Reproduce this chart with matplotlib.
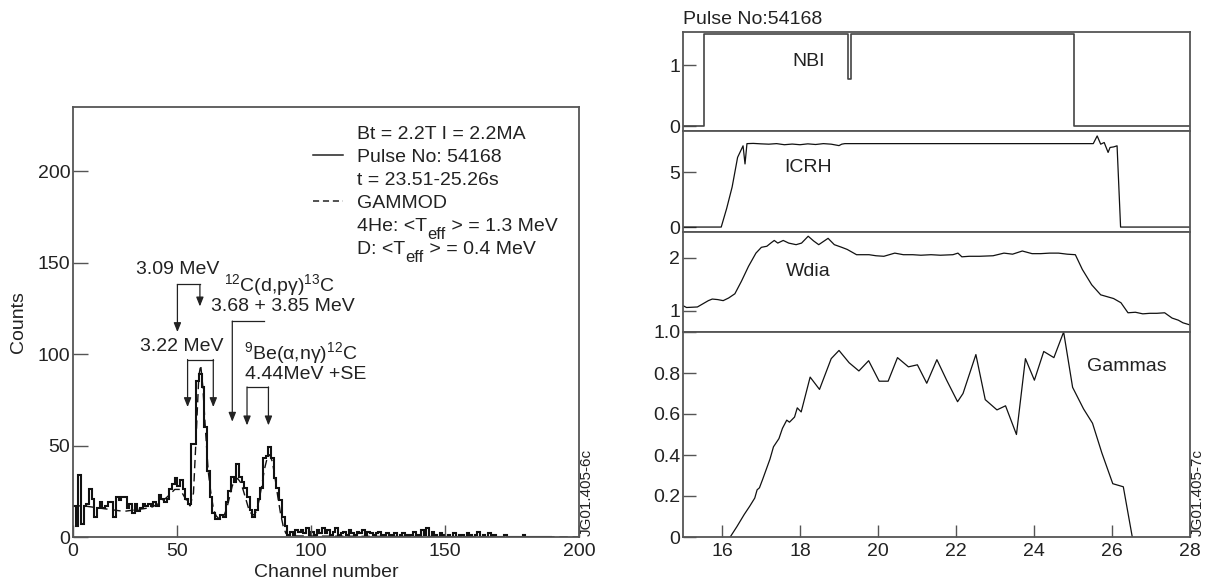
import matplotlib
matplotlib.use("Agg")
import matplotlib.pyplot as plt
import numpy as np

plt.rcParams['font.family'] = ['Liberation Sans', 'DejaVu Sans']
plt.rcParams['mathtext.fontset'] = 'custom'
plt.rcParams['mathtext.rm'] = 'Liberation Sans'
plt.rcParams['mathtext.it'] = 'Liberation Sans'
plt.rcParams['mathtext.bf'] = 'Liberation Sans'

# ---------------- gamma-ray spectrum (left) ----------------
channel_start = 11
counts = [
    17, 6, 34, 7, 17, 18, 26, 21, 11, 16,
    19, 16, 17, 19, 19, 11, 22, 20, 22, 22,
    16, 18, 13, 18, 14, 16, 18, 17, 18, 17,
    19, 17, 23, 21, 19, 21, 26, 29, 32, 28,
    31, 26, 21, 18, 51, 51, 85, 89, 82, 60,
    36, 22, 13, 10, 10, 12, 11, 19, 25, 33,
    30, 40, 33, 30, 27, 22, 15, 11, 15, 21,
    27, 43, 44, 49, 43, 32, 27, 20, 11, 6,
    1, 3, 1, 4, 3, 4, 2, 5, 1, 3,
    1, 4, 2, 5, 2, 4, 1, 3, 5, 1,
    2, 3, 1, 4, 2, 1, 3, 2, 4, 1,
    3, 2, 1, 2, 3, 1, 0, 2, 1, 1,
    2, 0, 1, 2, 1, 0, 1, 3, 0, 1,
    4, 1, 5, 0, 3, 1, 0, 2, 1, 0,
    1, 0, 2, 0, 1, 1, 0, 2, 1, 0,
    1, 3, 0, 1, 0, 2, 0, 1, 0, 0,
    0, 1, 0, 0, 0, 0, 0, 0, 1, 0,
    0, 0, 0, 0, 0, 0, 0, 0, 0,
]

model_channel = [11, 15, 20, 25, 30, 35, 40, 44, 47, 49, 51, 53, 54.7, 56,
                 57, 58, 58.7, 59.5, 60.5, 61.5, 62.5, 63.5, 64.5, 65.5, 66.5,
                 67.5, 68.5, 69.5, 70.5, 71.5, 72.5, 73.5, 74.5, 75.5, 76.5,
                 77.5, 78.5, 79.5, 80.5, 81.5, 82.5, 83.5, 84.5, 85.5, 86.5,
                 87.5, 88.5, 89.5, 90.5, 92, 100, 130, 200]
model_counts = [17, 17, 16, 15, 14, 15, 16, 19, 23, 26, 26, 21, 17, 24,
                55, 88, 94, 82, 58, 36, 24, 15, 11.5, 10, 10,
                12, 16, 22, 28, 31, 32, 30, 26, 21, 16,
                13, 12, 14, 20, 28, 37, 43, 45, 41, 32,
                22, 13, 6, 2, 0.6, 0.5, 0.3, 0]

# peak annotations: bracket span, bracket height, arrow channels, arrow tips
bracket_spans = [(50.0, 58.4), (53.8, 63.4), (70.5, 82.4), (76.0, 84.0)]
bracket_heights = [138, 97, 118, 82]
arrow_channels = [[50.0, 58.4], [53.8, 63.4], [70.5], [76.0, 84.0]]
arrow_tips = [[112, 126], [71, 71], [63], [61, 61]]

peak_labels = ["3.09 MeV", r"$^{12}$C(d,pγ)$^{13}$C", "3.68 + 3.85 MeV",
               "3.22 MeV", r"$^{9}$Be(α,nγ)$^{12}$C", "4.44MeV +SE"]
peak_label_x = [34.6, 67.4, 62.7, 36.2, 74.8, 75.2]
peak_label_y = [146, 137.5, 126, 104, 100.5, 89]

legend_plain = ["Bt = 2.2T I = 2.2MA", "Pulse No: 54168", "t = 23.51-25.26s",
                "GAMMOD"]
legend_teff = [("4He: <T", "eff", " > = 1.3 MeV"),
               ("D: <T", "eff", " > = 0.4 MeV")]

# ---------------- time traces (right) ----------------
nbi_t = [15.0, 15.54, 15.54, 19.24, 19.24, 19.31, 19.31, 25.03, 25.03, 28.0]
nbi_v = [0, 0, 1.5, 1.5, 0.77, 0.77, 1.5, 1.5, 0, 0]

icrh_t = [15.0, 15.98, 16.12, 16.26, 16.40, 16.54, 16.59, 16.64, 16.8, 17.0,
          17.2, 17.4, 17.6, 17.8, 18.0, 18.2, 18.4, 18.6, 18.8, 19.0, 19.07,
          19.15, 25.52, 25.62, 25.71, 25.8, 25.9, 25.95, 26.04, 26.13, 26.22,
          28.0]
icrh_v = [0, 0, 1.7, 3.65, 6.35, 7.4, 5.75, 7.6, 7.62, 7.58,
          7.55, 7.6, 7.5, 7.56, 7.5, 7.58, 7.52, 7.6, 7.55, 7.42, 7.55,
          7.6, 7.6, 8.3, 7.55, 7.7, 6.8, 7.25, 7.3, 7.4, 0,
          0]

wdia_t = [15.0, 15.09, 15.37, 15.51, 15.65, 15.75, 15.89, 16.03, 16.17, 16.33,
          16.5, 16.68, 16.87, 17.01, 17.15, 17.25, 17.34, 17.43, 17.57, 17.71,
          17.9, 18.04, 18.21, 18.35, 18.48, 18.72, 18.88, 19.07, 19.21, 19.45,
          19.77, 19.95, 20.15, 20.43, 20.65, 20.89, 21.1, 21.36, 21.6, 21.92,
          22.05, 22.15, 22.34, 22.6, 22.95, 23.23, 23.45, 23.7, 23.95, 24.17,
          24.4, 24.63, 24.85, 25.06, 25.24, 25.48, 25.71, 26.04, 26.23, 26.41,
          26.6, 26.79, 26.97, 27.15, 27.35, 27.54, 27.7, 27.82, 28.0]
wdia_v = [1.095, 1.06, 1.07, 1.13, 1.19, 1.22, 1.21, 1.19, 1.24, 1.32,
          1.56, 1.84, 2.09, 2.2, 2.22, 2.28, 2.33, 2.28, 2.33, 2.28,
          2.25, 2.28, 2.41, 2.32, 2.25, 2.37, 2.25, 2.2, 2.16, 2.06,
          2.06, 2.04, 2.03, 2.09, 2.06, 2.06, 2.05, 2.06, 2.05, 2.06,
          2.09, 2.02, 2.03, 2.03, 2.04, 2.09, 2.07, 2.13, 2.08, 2.08,
          2.09, 2.09, 2.07, 2.06, 1.78, 1.49, 1.3, 1.23, 1.15, 0.96,
          0.97, 0.94, 0.95, 0.95, 0.96, 0.86, 0.82, 0.77, 0.73]

gam_t = [16.21, 16.38, 16.57, 16.71, 16.84, 16.9, 16.96, 17.04, 17.23, 17.32,
         17.46, 17.55, 17.66, 17.73, 17.86, 17.93, 18.03, 18.26, 18.5, 18.8,
         19.0, 19.26, 19.51, 19.76, 20.03, 20.26, 20.5, 20.78, 21.01, 21.25,
         21.51, 21.76, 22.04, 22.18, 22.51, 22.75, 23.05, 23.27, 23.55, 23.78,
         24.01, 24.25, 24.51, 24.76, 24.99, 25.27, 25.5, 25.74, 26.02, 26.29,
         26.52]
gam_v = [0, 0.05, 0.11, 0.15, 0.19, 0.23, 0.24, 0.28, 0.38, 0.44,
         0.48, 0.53, 0.57, 0.56, 0.585, 0.63, 0.61, 0.78, 0.72, 0.87,
         0.91, 0.85, 0.81, 0.86, 0.76, 0.76, 0.875, 0.83, 0.84, 0.75,
         0.865, 0.765, 0.66, 0.70, 0.89, 0.67, 0.62, 0.64, 0.50, 0.87,
         0.765, 0.905, 0.875, 1.0, 0.73, 0.625, 0.555, 0.41, 0.26, 0.245,
         0]

time_ticks = [16, 18, 20, 22, 24, 26, 28]

# ---------------- figure ----------------
W, H = 1211, 585
TXT = '#222222'
SPINE = '#555555'
FS = 14

fig = plt.figure(figsize=(W / 100, H / 100), dpi=100)


def px_axes(x0, y0, x1, y1):
    return fig.add_axes([x0 / W, 1 - y1 / H, (x1 - x0) / W, (y1 - y0) / H])


def style(ax):
    for s in ax.spines.values():
        s.set_color(SPINE)
        s.set_linewidth(1.3)
    ax.tick_params(direction='in', colors=SPINE, labelcolor=TXT,
                   labelsize=FS, length=10, width=1.0, pad=3)


# left spectrum
axL = px_axes(73, 107, 579, 537)
style(axL)
edges = np.arange(channel_start, channel_start + len(counts) + 1)
axL.stairs(counts, edges, baseline=None, color='#111111', lw=1.5)
axL.plot(model_channel, model_counts, color='#111111', lw=1.0,
         dashes=(6, 3.5))
axL.set_xlim(channel_start, 200)
axL.set_ylim(0, 235)
axL.set_xticks([channel_start, 50, 100, 150, 200],
               labels=['0', '50', '100', '150', '200'])
axL.set_yticks([0, 50, 100, 150, 200])
axL.tick_params(axis='x', length=9, pad=4)
axL.tick_params(axis='y', length=11, pad=2)
axL.set_xlabel('Channel number', fontsize=FS, color=TXT)
axL.xaxis.set_label_coords(0.5, -(564 - 537) / 430)
fig.text(18 / W, 1 - 322 / H, 'Counts', rotation=90, fontsize=FS, color=TXT,
         ha='center', va='center')

arrow_style = dict(arrowstyle='-|>,head_length=0.55,head_width=0.22',
                   color=TXT, lw=0.9, shrinkA=0, shrinkB=0)
for (xa, xb), yh, xs, tips in zip(bracket_spans, bracket_heights,
                                  arrow_channels, arrow_tips):
    axL.plot([xa, xb], [yh, yh], color=TXT, lw=0.9)
    for xc, yt in zip(xs, tips):
        axL.annotate('', xy=(xc, yt), xytext=(xc, yh), arrowprops=arrow_style)

for s, x, y in zip(peak_labels, peak_label_x, peak_label_y):
    axL.text(x, y, s, fontsize=FS, color=TXT, ha='left', va='center')

# key block in the upper right of the spectrum
leg_x = (357 - 73) / 506
row_y = [1 - (139 - 107 + i * 23.0) / 430 for i in range(6)]
for s, yy in zip(legend_plain, row_y[:4]):
    axL.text(leg_x, yy, s, transform=axL.transAxes, fontsize=FS, color=TXT,
             ha='left', va='baseline')
for (pre, sub, post), yy in zip(legend_teff, row_y[4:]):
    t1 = axL.text(leg_x, yy, pre, transform=axL.transAxes, fontsize=FS,
                  color=TXT, ha='left', va='baseline')
    t2 = axL.annotate(sub, xy=(1, yy), xycoords=(t1, 'axes fraction'),
                      xytext=(0.3, -6), textcoords='offset points',
                      fontsize=FS * 0.85, color=TXT, ha='left', va='baseline')
    axL.annotate(post, xy=(1, yy), xycoords=(t2, 'axes fraction'),
                 fontsize=FS, color=TXT, ha='left', va='baseline')
for i, ls in [(1, '-'), (3, (0, (4, 2.5)))]:
    yy = 1 - (132 - 107 + i * 23.0) / 430
    axL.plot([(313 - 73) / 506, (343 - 73) / 506], [yy, yy],
             transform=axL.transAxes, color=TXT, lw=1.1, linestyle=ls)

fig.text(587 / W, 1 - 536 / H, 'JG01.405-6c', rotation=90, fontsize=11,
         color=TXT, ha='center', va='bottom')

# right stacked time traces
bounds = [(32, 131), (131, 232), (232, 332), (332, 537)]
panels = [px_axes(683, a, 1190, b) for a, b in bounds]
for ax in panels:
    style(ax)
    ax.set_xlim(15, 28)
    ax.tick_params(axis='y', length=9, pad=2)

a0, a1, a2, a3 = panels
a0.plot(nbi_t, nbi_v, color='#444444', lw=1.2)
a0.set_ylim(-0.08, 1.54)
a0.set_yticks([0, 1], labels=['0', '1'])
a0.text(17.8, 1.05, 'NBI', fontsize=FS, color=TXT, va='center')

a1.plot(icrh_t, icrh_v, color='#111111', lw=0.9)
a1.set_ylim(-0.45, 8.75)
a1.set_yticks([0, 5], labels=['0', '5'])
a1.text(17.6, 5.45, 'ICRH', fontsize=FS, color=TXT, va='center')

a2.plot(wdia_t, wdia_v, color='#111111', lw=0.9)
a2.set_ylim(0.596, 2.49)
a2.set_yticks([1, 2], labels=['1', '2'])
a2.text(17.64, 1.75, 'Wdia', fontsize=FS, color=TXT, va='center')

a3.plot(gam_t, gam_v, color='#111111', lw=0.9)
a3.set_ylim(0, 1.0)
a3.set_yticks([0, 0.2, 0.4, 0.6, 0.8, 1.0],
              labels=['0', '0.2', '0.4', '0.6', '0.8', '1.0'])
a3.text(25.35, 0.83, 'Gammas', fontsize=FS, color=TXT, va='center')

for ax in panels[:3]:
    ax.tick_params(axis='x', bottom=False, labelbottom=False)
a3.set_xticks(time_ticks)
a3.tick_params(axis='x', length=9, pad=4)

fig.text(683 / W, 1 - 20 / H, 'Pulse No:54168', fontsize=FS, color=TXT,
         ha='left', va='center')
fig.text(1198 / W, 1 - 536 / H, 'JG01.405-7c', rotation=90, fontsize=11,
         color=TXT, ha='center', va='bottom')

fig.savefig('out.png', dpi=100, facecolor='white')
